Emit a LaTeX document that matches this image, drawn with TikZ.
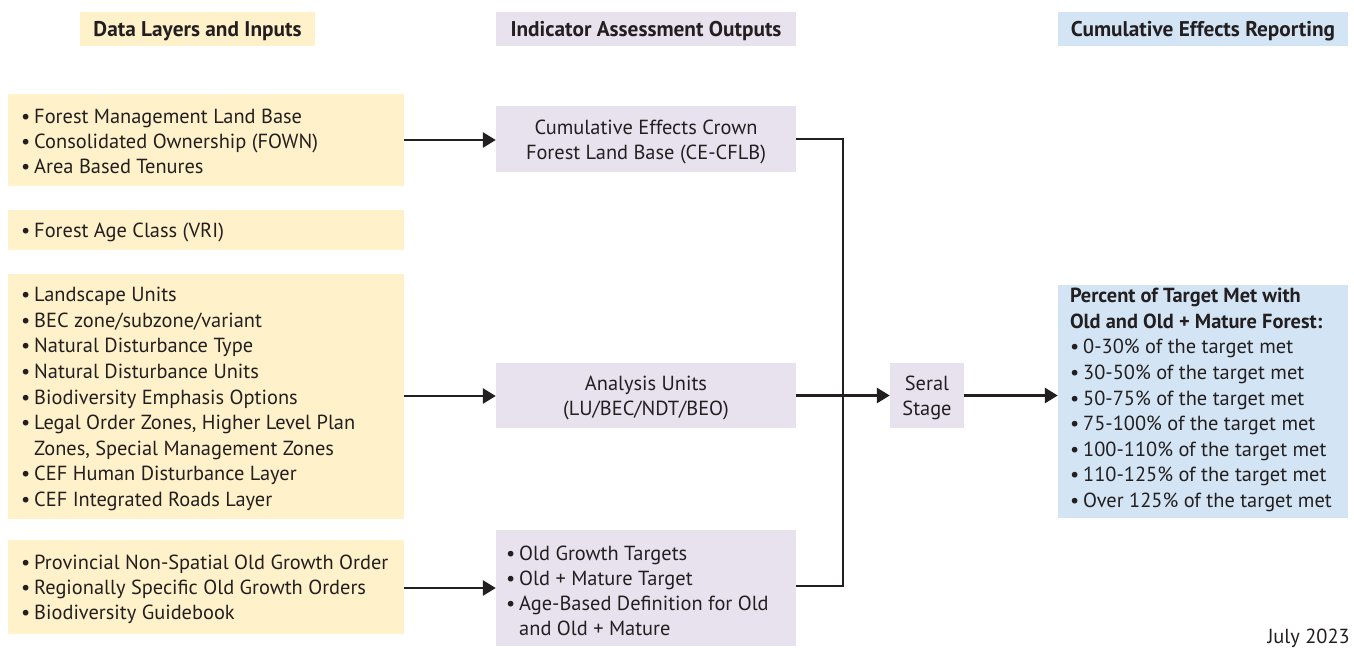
\documentclass[tikz,border=0pt]{standalone}
\usepackage{fontspec}
\setmainfont{PT Sans}
\usetikzlibrary{arrows.meta}
\definecolor{ybox}{HTML}{FFF1C9}
\definecolor{pbox}{HTML}{E8E2EF}
\definecolor{bbox}{HTML}{D3E5F5}
\definecolor{ink}{HTML}{231F20}
\newcommand{\bl}{\textbullet\hspace{4pt}}
\newcommand{\ind}{\phantom{\textbullet}\hspace{4pt}}
\begin{document}
\begin{tikzpicture}[x=1pt,y=-1pt,
  every node/.style={font=\fontsize{20.4}{25}\selectfont, text=ink},
  box/.style={inner sep=0pt},
  txt/.style={inner sep=0pt, yshift=-2.5pt},
  wide/.style={font=\fontsize{20.4}{25.6}\selectfont},
  hdr/.style={inner sep=0pt, yshift=-2pt, font=\fontsize{21.3}{25}\selectfont\bfseries},
  ltxt/.style={txt, anchor=west, xshift=#1, align=left},
  ctxt/.style={txt, align=center},
  conn/.style={line width=2.8pt, draw=ink},
  arr/.style={conn, -{Triangle[length=13pt,width=15pt]}}
]
\useasboundingbox (0,0) rectangle (1354,649);
% header boxes
\node[box, fill=ybox, minimum width=235pt, minimum height=34pt] (h1) at (197.5,29) {};
\node[box, fill=pbox, minimum width=300pt, minimum height=34pt] (h2) at (646,29) {};
\node[box, fill=bbox, minimum width=290pt, minimum height=34pt] (h3) at (1203,29) {};
\node[hdr] (h1t) at (h1.center) {Data Layers and Inputs};
\node[hdr] (h2t) at (h2.center) {Indicator Assessment Outputs};
\node[hdr] (h3t) at (h3.center) {Cumulative Effects Reporting};
% left boxes
\node[box, fill=ybox, minimum width=396pt, minimum height=92pt] (a) at (206,140) {};
\node[box, fill=ybox, minimum width=396pt, minimum height=40pt] (b) at (206,230) {};
\node[box, fill=ybox, minimum width=396pt, minimum height=245pt] (c) at (206,396.5) {};
\node[box, fill=ybox, minimum width=396pt, minimum height=94pt] (d) at (206,587) {};
\node[ltxt=13pt, yshift=1pt] (at) at (a.west) {\bl Forest Management Land Base\\ \bl Consolidated Ownership (FOWN)\\ \bl Area Based Tenures};
\node[ltxt=13pt] (bt) at (b.west) {\bl Forest Age Class (VRI)};
\node[ltxt=13pt, wide] (ct) at (c.west) {\bl Landscape Units\\ \bl BEC zone/subzone/variant\\ \bl Natural Disturbance Type\\ \bl Natural Disturbance Units\\ \bl Biodiversity Emphasis Options\\ \bl Legal Order Zones, Higher Level Plan\\ \ind Zones, Special Management Zones\\ \bl CEF Human Disturbance Layer\\ \bl CEF Integrated Roads Layer};
\node[ltxt=13pt] (dt) at (d.west) {\bl Provincial Non-Spatial Old Growth Order\\ \bl Regionally Specific Old Growth Orders\\ \bl Biodiversity Guidebook};
% middle boxes
\node[box, fill=pbox, minimum width=300pt, minimum height=66pt] (p1) at (646,139) {};
\node[box, fill=pbox, minimum width=300pt, minimum height=65pt] (p2) at (646,395.5) {};
\node[box, fill=pbox, minimum width=300pt, minimum height=116pt] (p3) at (646,588) {};
\node[box, fill=pbox, minimum width=74pt, minimum height=65pt] (s) at (927,395.5) {};
\node[ctxt] (p1t) at (p1.center) {Cumulative Effects Crown\\ Forest Land Base (CE-CFLB)};
\node[ctxt] (p2t) at (p2.center) {Analysis Units\\ (LU/BEC/NDT/BEO)};
\node[ltxt=10pt] (p3t) at (p3.west) {\bl Old Growth Targets\\ \bl Old + Mature Target\\ \bl Age-Based Definition for Old\\ \ind and Old + Mature};
\node[ctxt] (st) at (s.center) {Seral\\ Stage};
% right box
\node[box, fill=bbox, minimum width=290pt, minimum height=233pt] (r) at (1203,401.5) {};
\node[ltxt=12pt, wide, yshift=4pt] (rt) at (r.west) {\textbf{Percent of Target Met with}\\ \textbf{Old and Old + Mature Forest:}\\ \bl 0-30\% of the target met\\ \bl 30-50\% of the target met\\ \bl 50-75\% of the target met\\ \bl 75-100\% of the target met\\ \bl 100-110\% of the target met\\ \bl 110-125\% of the target met\\ \bl Over 125\% of the target met};
\node[anchor=south east, inner sep=0pt] (date) at (1350,648) {July 2023};
% connectors
\coordinate (j1) at (843,139);
\coordinate (j2) at (843,586);
\draw[arr] (a.east |- 0,140) -- (p1.west |- 0,140);
\draw[arr] (c.east |- 0,396) -- (p2.west |- 0,396);
\draw[arr] (d.east |- 0,588) -- (p3.west |- 0,588);
\draw[conn] (p1.east) -- (j1) -- (j2) -- (p3.east |- j2);
\draw[arr] (p2.east) -- (s.west);
\draw[arr] (s.east) -- (r.west |- s.east);
\end{tikzpicture}
\end{document}
